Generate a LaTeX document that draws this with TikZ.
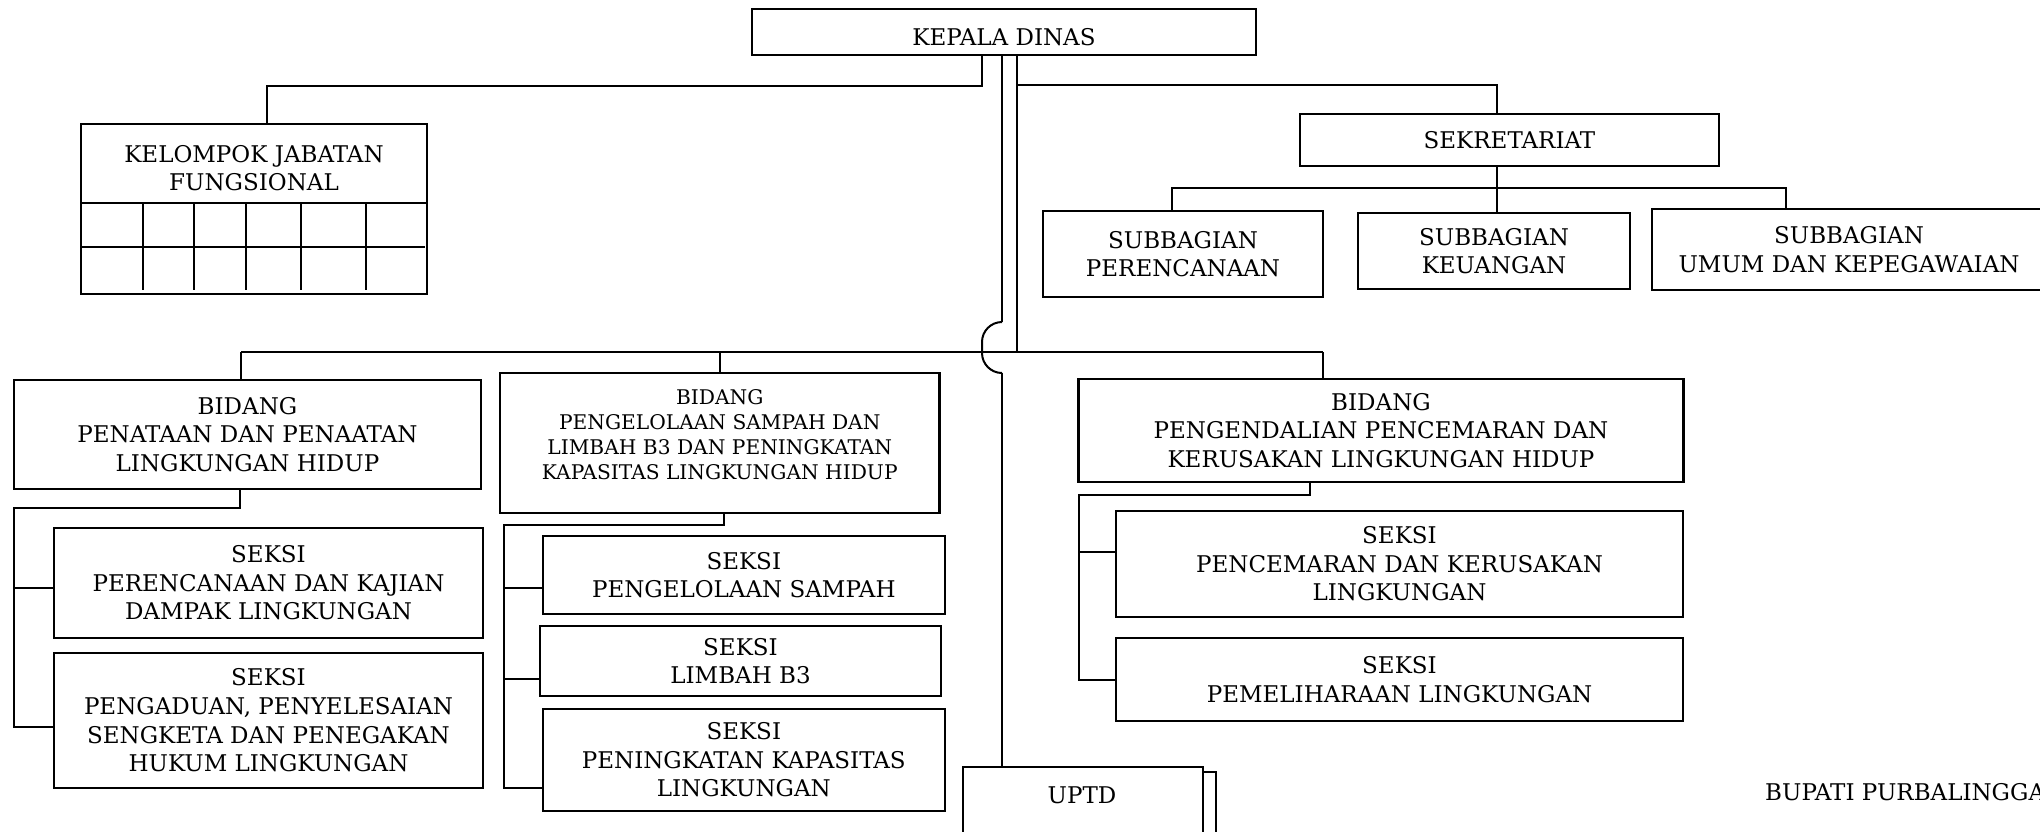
\documentclass[tikz,border=0pt]{standalone}
\usepackage{fontspec}
\setmainfont{DejaVu Serif}
\usetikzlibrary{positioning}

\tikzset{
  orgbox/.style={draw, line width=2.2pt, fill=white, inner sep=0pt, align=center,
    font=\fontsize{23}{28.6}\selectfont},
  orgtext/.style={align=center, inner sep=0pt, font=\fontsize{23}{28.6}\selectfont},
  link/.style={line width=2pt}
}

\begin{document}
\begin{tikzpicture}[x=1pt, y=-1pt]
  \useasboundingbox (0,0) rectangle (2040,831);

  % Kepala dinas and sekretariat
  \node[orgbox, minimum width=504pt, minimum height=46pt, text height=26pt, text depth=0pt] (kadis) at (1004,32) {KEPALA DINAS};
  \node[orgbox, minimum width=419pt, minimum height=52pt] (sekr) at (1509.5,140) {SEKRETARIAT};
  \node[orgbox, minimum width=280pt, minimum height=86pt] (sbper) at (1183,254) {SUBBAGIAN\\PERENCANAAN};
  \node[orgbox, minimum width=272pt, minimum height=76pt] (sbkeu) at (1494,251) {SUBBAGIAN\\KEUANGAN};
  \node[orgbox, minimum width=394pt, minimum height=81pt] (sbumum) at (1849,249.5) {SUBBAGIAN\\UMUM DAN KEPEGAWAIAN};

  % Kelompok jabatan fungsional
  \node[orgbox, minimum width=346pt, minimum height=170pt] (kjf) at (254,209) {};
  \node[orgtext] (kjfname) at (254,168) {KELOMPOK JABATAN\\FUNGSIONAL};
  \draw[line width=2.2pt] (81,203) -- (427,203);
  \draw[line width=2.2pt] (81,247) -- (425,247);
  \foreach \x in {143,194,246,300.5,365.6}
    \draw[link] (\x,203) -- (\x,290);

  % Bidang
  \node[orgbox, minimum width=467pt, minimum height=109pt] (bpen) at (247.5,434.5) {BIDANG\\PENATAAN DAN PENAATAN\\LINGKUNGAN HIDUP};
  \node[orgbox, minimum width=439.5pt, minimum height=140pt] (bpsl) at (719.75,443) {};
  \node[orgtext, font=\fontsize{20.2}{25}\selectfont] (bpslname) at (719.75,435) {BIDANG\\PENGELOLAAN SAMPAH DAN\\LIMBAH B3 DAN PENINGKATAN\\KAPASITAS LINGKUNGAN HIDUP};
  \node[orgbox, minimum width=605pt, minimum height=103pt] (bpkl) at (1381,430.5) {BIDANG\\PENGENDALIAN PENCEMARAN DAN\\KERUSAKAN LINGKUNGAN HIDUP};

  % Seksi
  \node[orgbox, minimum width=429pt, minimum height=110pt] (s11) at (268.5,583) {SEKSI\\PERENCANAAN DAN KAJIAN\\DAMPAK LINGKUNGAN};
  \node[orgbox, minimum width=429pt, minimum height=135pt] (s12) at (268.5,720.5) {SEKSI\\PENGADUAN, PENYELESAIAN\\SENGKETA DAN PENEGAKAN\\HUKUM LINGKUNGAN};
  \node[orgbox, minimum width=402pt, minimum height=78pt] (s21) at (743.8,575) {SEKSI\\PENGELOLAAN SAMPAH};
  \node[orgbox, minimum width=401pt, minimum height=70pt] (s22) at (740.5,661) {SEKSI\\LIMBAH B3};
  \node[orgbox, minimum width=402pt, minimum height=102pt] (s23) at (743.8,760) {SEKSI\\PENINGKATAN KAPASITAS\\LINGKUNGAN};
  \node[orgbox, minimum width=567pt, minimum height=106pt] (s31) at (1399.5,564) {SEKSI\\PENCEMARAN DAN KERUSAKAN\\LINGKUNGAN};
  \node[orgbox, minimum width=567pt, minimum height=83pt] (s32) at (1399.5,679.5) {SEKSI\\PEMELIHARAAN LINGKUNGAN};

  % UPTD
  \node[orgbox, minimum width=240pt, minimum height=83pt] (uptdback) at (1096,813.5) {};
  \node[orgbox, minimum width=240pt, minimum height=83pt] (uptd) at (1082.7,808.5) {};
  \node[orgtext] (uptdname) at (1082,795) {UPTD};

  \node[orgtext, anchor=west] (bupati) at (1765,792) {BUPATI PURBALINGGA};

  % Lines from kepala dinas
  \coordinate (jfung) at (982,86);
  \coordinate (jsekr) at (1017,85);
  \coordinate (jbus) at (1017,352);
  \draw[link] ([xshift=-22pt]kadis.south) -- (jfung) -| ([xshift=13pt]kjf.north);
  \draw[link] ([xshift=13pt]kadis.south) -- (jbus);
  \draw[link] (jsekr) -| ([xshift=-12.5pt]sekr.north);

  % Sekretariat to subbagian
  \coordinate (jsub) at (1497,188);
  \draw[link] ([xshift=-12.5pt]sekr.south) -- ([xshift=3pt]sbkeu.north);
  \draw[link] ([xshift=-11pt]sbper.north) |- (jsub) -| ([xshift=-63pt]sbumum.north);

  % Bus to bidang
  \coordinate (busL) at (241,352);
  \coordinate (busR) at (1322.5,352);
  \draw[link] (busL) -- (busR);
  \draw[link] (busL) -- (busL |- bpen.north);
  \draw[link] (bpsl.north |- busL) -- (bpsl.north);
  \draw[link] (busR) -- (busR |- bpkl.north);

  % Line to UPTD, hopping over the bus
  \coordinate (hopT) at (1002,322);
  \coordinate (hopB) at (1002,373);
  \draw[link] ([xshift=-2pt]kadis.south) -- (hopT);
  \draw[link, rounded corners=20pt] (hopT) -- ++(-20,0) -- ++(0,51) -- (hopB);
  \draw[link] (hopB) -- (hopB |- uptd.north);

  % Bidang penataan to seksi
  \coordinate (j1) at (14,508);
  \draw[link] ([xshift=-7.5pt]bpen.south) |- (j1) |- ([yshift=-6.5pt]s12.west);
  \draw[link] ([yshift=-5pt]s11.west) -- ++(-40,0);

  % Bidang pengelolaan to seksi
  \coordinate (j2) at (503.6,525);
  \draw[link] ([xshift=4pt]bpsl.south) |- (j2) |- ([yshift=-28pt]s23.west);
  \draw[link] ([yshift=-13pt]s21.west) -- ++(-39,0);
  \draw[link] ([yshift=-18pt]s22.west) -- ++(-36.4,0);

  % Bidang pengendalian to seksi
  \coordinate (j3) at (1078.6,495);
  \draw[link] ([xshift=-71.5pt]bpkl.south) |- (j3) |- (s32.west);
  \draw[link] ([yshift=12pt]s31.west) -- ++(-37.4,0);
\end{tikzpicture}
\end{document}
